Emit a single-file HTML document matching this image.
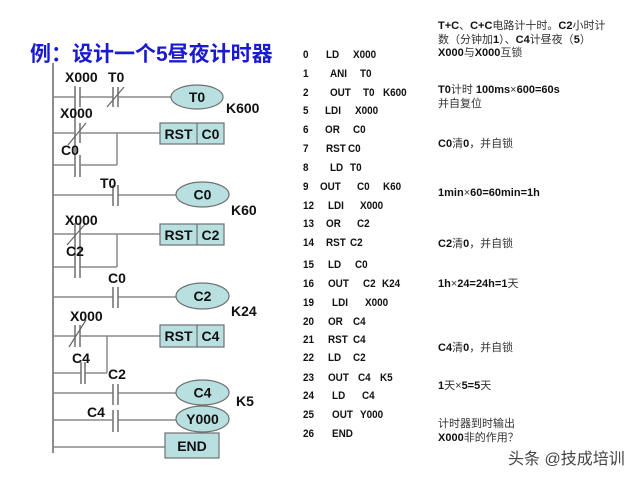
<!DOCTYPE html>
<html><head><meta charset="utf-8"><style>
html,body{margin:0;padding:0;background:#fff;}
svg{display:block;}
text{font-family:"Liberation Sans","Noto Sans CJK SC",sans-serif;}
.lb{font-size:14px;font-weight:bold;fill:#111;}
.ct{font-size:14px;font-weight:bold;fill:#111;text-anchor:middle;}
.il{font-size:11px;font-weight:bold;fill:#111;}
.nt{font-size:11px;fill:#333;}
.nt tspan.b{font-weight:bold;fill:#111;}
.r{stroke:#8a8a8a;stroke-width:1.5;fill:none;}
.p{stroke:#777;stroke-width:1.6;fill:none;}
.s{stroke:#666;stroke-width:1.2;fill:none;}
.cl{fill:#b9e0e1;stroke:#707070;stroke-width:1.2;}
</style></head><body>
<svg width="640" height="480" viewBox="0 0 640 480" xmlns="http://www.w3.org/2000/svg">
<rect width="640" height="480" fill="#fff"/>
<!-- title -->
<text x="30" y="61" style="font-size:21px;font-weight:bold;fill:#1a1ad4;">例：设计一个5昼夜计时器</text>

<!-- rail -->
<line x1="53" y1="63" x2="53" y2="453" stroke="#666" stroke-width="1.5"/>

<!-- rung 1 -->
<path class="r" d="M53 97H75M80 97H113M118 97H171"/>
<line class="p" x1="75" y1="86" x2="75" y2="177" stroke="#999"/>
<path class="p" d="M80 87V107M80 123V143M80 155V177"/>
<path class="p" d="M113 87V107M118 87V107"/>
<line class="s" x1="107" y1="107" x2="124" y2="87"/>
<ellipse class="cl" cx="197" cy="97" rx="26" ry="12"/>
<text class="ct" x="197" y="102">T0</text>
<text class="lb" x="65" y="82">X000</text>
<text class="lb" x="108" y="82">T0</text>
<text class="lb" x="226" y="113">K600</text>

<!-- rung 2 -->
<path class="r" d="M53 133H75M80 133H160M117 133V165M53 165H75M80 165H117"/>
<line class="s" x1="68" y1="145" x2="86" y2="123"/>
<rect class="cl" x="160" y="123" width="64" height="21"/>
<line x1="197" y1="123" x2="197" y2="144" stroke="#707070" stroke-width="1.2"/>
<text class="ct" x="178.5" y="139">RST</text>
<text class="ct" x="210.5" y="139">C0</text>
<text class="lb" x="60" y="118">X000</text>
<text class="lb" x="61" y="155">C0</text>

<!-- rung 3 -->
<path class="r" d="M53 195H113M118 195H176"/>
<path class="p" d="M113 185V206M118 185V206"/>
<ellipse class="cl" cx="202.5" cy="194.5" rx="26.5" ry="12.5"/>
<text class="ct" x="202.5" y="199.5">C0</text>
<text class="lb" x="100" y="188">T0</text>
<text class="lb" x="231" y="215">K60</text>

<!-- rung 4 -->
<path class="r" d="M53 234H75M80 234H160M117 234V267M53 267H75M80 267H117"/>
<path class="p" d="M75 223V278M80 223V278"/>
<line class="s" x1="67" y1="245" x2="86" y2="223"/>
<rect class="cl" x="160" y="224" width="64" height="21"/>
<line x1="197" y1="224" x2="197" y2="245" stroke="#707070" stroke-width="1.2"/>
<text class="ct" x="178.5" y="240">RST</text>
<text class="ct" x="210.5" y="240">C2</text>
<text class="lb" x="65" y="225">X000</text>
<text class="lb" x="66" y="256">C2</text>

<!-- rung 5 -->
<path class="r" d="M53 297H113M118 297H176"/>
<path class="p" d="M113 287V308M118 287V308"/>
<ellipse class="cl" cx="202.5" cy="296" rx="26.5" ry="13"/>
<text class="ct" x="202.5" y="301">C2</text>
<text class="lb" x="108" y="283">C0</text>
<text class="lb" x="231" y="316">K24</text>

<!-- rung 6 -->
<path class="r" d="M53 336H75M80 336H160M107 336V373M53 373H81M85 373H107"/>
<path class="p" d="M75 325V347M80 325V347"/>
<line class="s" x1="69" y1="347" x2="86" y2="320"/>
<path class="p" d="M81 362V384M85 362V384"/>
<rect class="cl" x="160" y="325" width="64" height="22"/>
<line x1="197" y1="325" x2="197" y2="347" stroke="#707070" stroke-width="1.2"/>
<text class="ct" x="178.5" y="341">RST</text>
<text class="ct" x="210.5" y="341">C4</text>
<text class="lb" x="70" y="321">X000</text>
<text class="lb" x="72" y="363">C4</text>

<!-- rung 7 -->
<path class="r" d="M53 393H113M118 393H176"/>
<path class="p" d="M113 384V405M118 384V405"/>
<ellipse class="cl" cx="202.5" cy="392.5" rx="26.5" ry="12.5"/>
<text class="ct" x="202.5" y="397.5">C4</text>
<text class="lb" x="108" y="379">C2</text>
<text class="lb" x="236" y="406">K5</text>

<!-- rung 8 -->
<path class="r" d="M53 420H113M118 420H176"/>
<path class="p" d="M113 410V432M118 410V432"/>
<ellipse class="cl" cx="202.5" cy="419" rx="26.5" ry="13"/>
<text class="ct" x="202.5" y="424">Y000</text>
<text class="lb" x="87" y="417">C4</text>

<!-- rung 9 -->
<path class="r" d="M53 447H165"/>
<rect class="cl" x="165" y="433" width="54" height="25"/>
<text class="ct" x="192" y="451">END</text>

<!-- instruction list (horizontally condensed) -->
<g class="il" transform="translate(300 0) scale(0.9 1)">
<text x="3.3" y="58">0</text><text x="28.9" y="58">LD</text><text x="58.9" y="58">X000</text>
<text x="3.3" y="77">1</text><text x="33.3" y="77">ANI</text><text x="66.7" y="77">T0</text>
<text x="3.3" y="96">2</text><text x="33.3" y="96">OUT</text><text x="70" y="96">T0</text><text x="92.2" y="96">K600</text>
<text x="3.3" y="114">5</text><text x="27.8" y="114">LDI</text><text x="61.1" y="114">X000</text>
<text x="3.3" y="133">6</text><text x="27.8" y="133">OR</text><text x="58.9" y="133">C0</text>
<text x="3.3" y="152">7</text><text x="28.9" y="152">RST</text><text x="53.3" y="152">C0</text>
<text x="3.3" y="171">8</text><text x="33.3" y="171">LD</text><text x="55.6" y="171">T0</text>
<text x="3.3" y="190">9</text><text x="22.2" y="190">OUT</text><text x="63.3" y="190">C0</text><text x="92.2" y="190">K60</text>
<text x="3.3" y="209">12</text><text x="31.1" y="209">LDI</text><text x="66.7" y="209">X000</text>
<text x="3.3" y="227">13</text><text x="28.9" y="227">OR</text><text x="63.3" y="227">C2</text>
<text x="3.3" y="246">14</text><text x="28.9" y="246">RST</text><text x="55.6" y="246">C2</text>
<text x="3.3" y="268">15</text><text x="31.1" y="268">LD</text><text x="61.1" y="268">C0</text>
<text x="3.3" y="287">16</text><text x="31.1" y="287">OUT</text><text x="70" y="287">C2</text><text x="91.1" y="287">K24</text>
<text x="3.3" y="306">19</text><text x="35.6" y="306">LDI</text><text x="72.2" y="306">X000</text>
<text x="3.3" y="325">20</text><text x="31.1" y="325">OR</text><text x="58.9" y="325">C4</text>
<text x="3.3" y="343">21</text><text x="31.1" y="343">RST</text><text x="58.9" y="343">C4</text>
<text x="3.3" y="361">22</text><text x="31.1" y="361">LD</text><text x="58.9" y="361">C2</text>
<text x="3.3" y="381">23</text><text x="31.1" y="381">OUT</text><text x="64.4" y="381">C4</text><text x="88.9" y="381">K5</text>
<text x="3.3" y="399">24</text><text x="35.6" y="399">LD</text><text x="68.9" y="399">C4</text>
<text x="3.3" y="418">25</text><text x="35.6" y="418">OUT</text><text x="66.7" y="418">Y000</text>
<text x="3.3" y="437">26</text><text x="35.6" y="437">END</text>
</g>

<!-- notes -->
<text class="nt" x="438" y="29"><tspan class="b">T+C</tspan>、<tspan class="b">C+C</tspan>电路计十时。<tspan class="b">C2</tspan>小时计</text>
<text class="nt" x="438" y="43">数（分钟加<tspan class="b">1</tspan>）、<tspan class="b">C4</tspan>计昼夜（<tspan class="b">5</tspan>）</text>
<text class="nt" x="438" y="56"><tspan class="b">X000</tspan>与<tspan class="b">X000</tspan>互锁</text>
<text class="nt" x="438" y="93"><tspan class="b">T0</tspan>计时  <tspan class="b">100ms</tspan>×<tspan class="b">600=60s</tspan></text>
<text class="nt" x="438" y="107">并自复位</text>
<text class="nt" x="438" y="147"><tspan class="b">C0</tspan>清<tspan class="b">0</tspan>，并自锁</text>
<text class="nt" x="438" y="196"><tspan class="b">1min</tspan>×<tspan class="b">60=60min=1h</tspan></text>
<text class="nt" x="438" y="247"><tspan class="b">C2</tspan>清<tspan class="b">0</tspan>，并自锁</text>
<text class="nt" x="438" y="287"><tspan class="b">1h</tspan>×<tspan class="b">24=24h=1</tspan>天</text>
<text class="nt" x="438" y="351"><tspan class="b">C4</tspan>清<tspan class="b">0</tspan>，并自锁</text>
<text class="nt" x="438" y="389"><tspan class="b">1</tspan>天×<tspan class="b">5=5</tspan>天</text>
<text class="nt" x="438" y="427">计时器到时输出</text>
<text class="nt" x="438" y="441"><tspan class="b">X000</tspan>非的作用？</text>

<!-- watermark -->
<text x="508" y="464" style="font-size:16px;fill:#444;">头条 @技成培训</text>
</svg>
</body></html>
